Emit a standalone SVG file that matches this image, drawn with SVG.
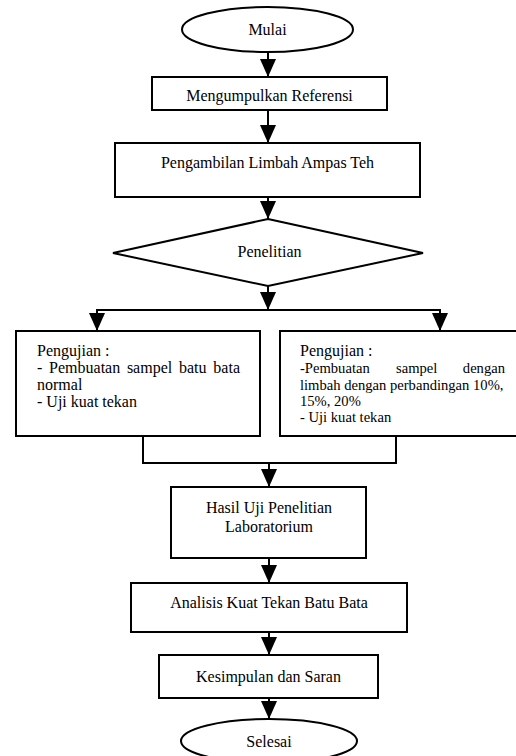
<svg xmlns="http://www.w3.org/2000/svg" width="516" height="756" viewBox="0 0 516 756" font-family="'Liberation Serif', 'DejaVu Serif', serif" font-size="16">
<style>
.s{fill:#fff;stroke:#000;stroke-width:2}
.c{fill:none;stroke:#000;stroke-width:2}
text{font-family:'Liberation Serif','DejaVu Serif',serif;font-size:16px;fill:#000}
.m{text-anchor:middle}
.r{font-size:14.6px}
</style>
<defs>
<marker id="ah" viewBox="0 0 18 16" refX="18" refY="8" markerWidth="18" markerHeight="16" markerUnits="userSpaceOnUse" orient="auto">
<path d="M0,0 L18,8 L0,16 z" fill="#000"/>
</marker>
</defs>
<rect width="516" height="756" fill="#fff"/>
<g id="connectors">
<path class="c" d="M268,52 V77" marker-end="url(#ah)"/>
<path class="c" d="M268,110 V143" marker-end="url(#ah)"/>
<path class="c" d="M268,197 V219" marker-end="url(#ah)"/>
<path class="c" d="M268,286 V310" marker-end="url(#ah)"/>
<path class="c" d="M97,310 H440"/>
<path class="c" d="M97,309 V331" marker-end="url(#ah)"/>
<path class="c" d="M440,309 V331" marker-end="url(#ah)"/>
<path class="c" d="M143,436 V463 H396 V436"/>
<path class="c" d="M269,463 V487" marker-end="url(#ah)"/>
<path class="c" d="M269,558 V583" marker-end="url(#ah)"/>
<path class="c" d="M269,632 V655" marker-end="url(#ah)"/>
<path class="c" d="M269,698 V719" marker-end="url(#ah)"/>
</g>
<g id="mulai">
<ellipse class="s" cx="267.5" cy="29.5" rx="85.5" ry="22.5"/>
<text class="m" x="267.5" y="35">Mulai</text>
</g>
<g id="referensi">
<rect class="s" x="152" y="77" width="235" height="33"/>
<text class="m" x="269.5" y="101">Mengumpulkan Referensi</text>
</g>
<g id="pengambilan">
<rect class="s" x="115" y="143" width="305" height="54"/>
<text class="m" x="267.5" y="168">Pengambilan Limbah Ampas Teh</text>
</g>
<g id="penelitian">
<polygon class="s" points="268,219 423,253 268,286 113,253"/>
<text class="m" x="269.5" y="257">Penelitian</text>
</g>
<g id="pengujian-normal">
<rect class="s" x="16" y="331" width="244" height="105"/>
<text x="37" y="356">Pengujian :</text>
<text y="373"><tspan x="37">-</tspan><tspan x="49.1">Pembuatan</tspan><tspan x="126.9">sampel</tspan><tspan x="179">batu</tspan><tspan x="240" text-anchor="end">bata</tspan></text>
<text x="37" y="390">normal</text>
<text x="37" y="407">- Uji kuat tekan</text>
</g>
<g id="pengujian-limbah">
<rect class="s" x="280" y="331" width="240" height="105"/>
<text x="300" y="356">Pengujian :</text>
<text class="r" y="373"><tspan x="300">-Pembuatan</tspan><tspan x="396">sampel</tspan><tspan x="505" text-anchor="end">dengan</tspan></text>
<text class="r" x="300" y="390">limbah dengan perbandingan 10%,</text>
<text class="r" x="300" y="406">15%, 20%</text>
<text class="r" x="300" y="422">- Uji kuat tekan</text>
</g>
<g id="hasil">
<rect class="s" x="171" y="487" width="195" height="71"/>
<text class="m" x="269" y="513">Hasil Uji Penelitian</text>
<text class="m" x="269" y="532">Laboratorium</text>
</g>
<g id="analisis">
<rect class="s" x="131" y="583" width="276" height="49"/>
<text class="m" x="269" y="608">Analisis Kuat Tekan Batu Bata</text>
</g>
<g id="kesimpulan">
<rect class="s" x="159" y="655" width="219" height="43"/>
<text class="m" x="268.5" y="682">Kesimpulan dan Saran</text>
</g>
<g id="selesai">
<ellipse class="s" cx="269" cy="741" rx="88" ry="22"/>
<text class="m" x="269" y="747">Selesai</text>
</g>
</svg>
